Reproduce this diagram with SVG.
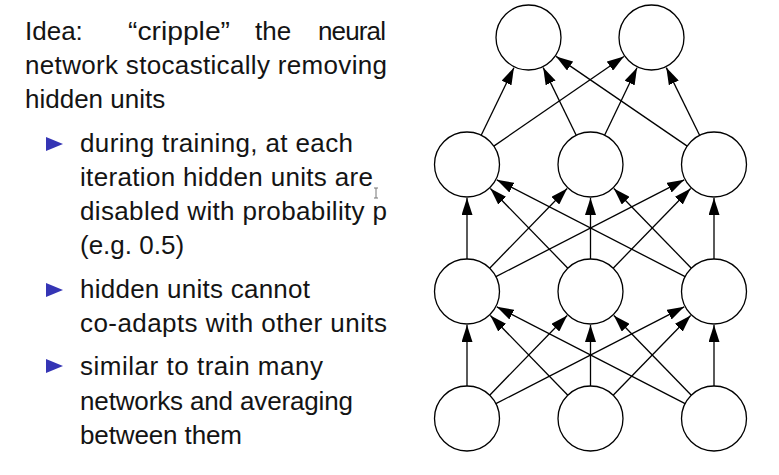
<svg xmlns="http://www.w3.org/2000/svg" width="779" height="475" viewBox="0 0 779 475">
<style>
text{font-family:"Liberation Sans",Arial,sans-serif;font-size:26px;fill:#141414}
.node{fill:#fff;stroke:#000;stroke-width:1.3}
.edge{stroke:#000;stroke-width:1.3;fill:none;marker-end:url(#ah)}
.bul{fill:#3535b5}
</style>
<defs>
<marker id="ah" markerUnits="userSpaceOnUse" markerWidth="18" markerHeight="11" refX="17" refY="5.5" orient="auto">
<path d="M0,0 L17,5.5 L0,11 z" fill="#000"/>
</marker>
</defs>
<rect width="779" height="475" fill="#fff"/>
<g id="text">
<text x="25" y="40">Idea:</text>
<text x="128" y="40" textLength="102" lengthAdjust="spacingAndGlyphs">“cripple”</text>
<text x="255" y="40">the</text>
<text x="318" y="40" textLength="68">neural</text>
<text x="25" y="74" textLength="362">network stocastically removing</text>
<text x="25" y="108">hidden units</text>
<path class="bul" d="M46,137 L63,144 L46,151 z"/>
<text x="80" y="152" textLength="273">during training, at each</text>
<text x="80" y="186" textLength="293">iteration hidden units are</text>
<text x="80" y="220" textLength="307">disabled with probability p</text>
<text x="80" y="254">(e.g. 0.5)</text>
<path class="bul" d="M46,283 L63,290 L46,297 z"/>
<text x="80" y="298" textLength="230">hidden units cannot</text>
<text x="80" y="332" textLength="307">co-adapts with other units</text>
<path class="bul" d="M46,359 L63,366 L46,373 z"/>
<text x="80" y="375" textLength="243">similar to train many</text>
<text x="80" y="410" textLength="273">networks and averaging</text>
<text x="80" y="444" textLength="162">between them</text>
<path d="M374,188 H378 M376,188 V198 M374,198 H378" stroke="#777" stroke-width="1" fill="none"/>
</g>
<g id="connectors">
<line class="edge" x1="481.2" y1="135.3" x2="513.9" y2="67.7"/>
<line class="edge" x1="493.8" y1="146.1" x2="623.9" y2="56.5"/>
<line class="edge" x1="576.2" y1="135.3" x2="543.2" y2="67.6"/>
<line class="edge" x1="604.6" y1="135.2" x2="637.0" y2="67.7"/>
<line class="edge" x1="687.2" y1="146.1" x2="556.1" y2="56.4"/>
<line class="edge" x1="699.6" y1="135.3" x2="666.3" y2="67.6"/>
<line class="edge" x1="467" y1="259" x2="467" y2="198"/>
<line class="edge" x1="489.66" y1="268.19" x2="567.14" y2="188.52"/>
<line class="edge" x1="495.9" y1="276.64" x2="684.2" y2="179.82"/>
<line class="edge" x1="567.84" y1="268.19" x2="490.36" y2="188.52"/>
<line class="edge" x1="590.5" y1="259" x2="590.5" y2="198"/>
<line class="edge" x1="613.16" y1="268.19" x2="690.64" y2="188.52"/>
<line class="edge" x1="685.1" y1="276.64" x2="496.8" y2="179.82"/>
<line class="edge" x1="691.34" y1="268.19" x2="613.86" y2="188.52"/>
<line class="edge" x1="714" y1="259" x2="714" y2="198"/>
<line class="edge" x1="467" y1="386" x2="467" y2="325"/>
<line class="edge" x1="489.66" y1="395.19" x2="567.14" y2="315.52"/>
<line class="edge" x1="495.9" y1="403.64" x2="684.2" y2="306.82"/>
<line class="edge" x1="567.84" y1="395.19" x2="490.36" y2="315.52"/>
<line class="edge" x1="590.5" y1="386" x2="590.5" y2="325"/>
<line class="edge" x1="613.16" y1="395.19" x2="690.64" y2="315.52"/>
<line class="edge" x1="685.1" y1="403.64" x2="496.8" y2="306.82"/>
<line class="edge" x1="691.34" y1="395.19" x2="613.86" y2="315.52"/>
<line class="edge" x1="714" y1="386" x2="714" y2="325"/>
</g>
<g id="out1"><circle class="node" cx="528.5" cy="37.5" r="32.5"/></g>
<g id="out2"><circle class="node" cx="651.5" cy="37.5" r="32.5"/></g>
<g id="h2a"><circle class="node" cx="467" cy="164.5" r="32.5"/></g>
<g id="h2b"><circle class="node" cx="590.5" cy="164.5" r="32.5"/></g>
<g id="h2c"><circle class="node" cx="714" cy="164.5" r="32.5"/></g>
<g id="h1a"><circle class="node" cx="467" cy="291.5" r="32.5"/></g>
<g id="h1b"><circle class="node" cx="590.5" cy="291.5" r="32.5"/></g>
<g id="h1c"><circle class="node" cx="714" cy="291.5" r="32.5"/></g>
<g id="in1"><circle class="node" cx="467" cy="418.5" r="32.5"/></g>
<g id="in2"><circle class="node" cx="590.5" cy="418.5" r="32.5"/></g>
<g id="in3"><circle class="node" cx="714" cy="418.5" r="32.5"/></g>
</svg>
